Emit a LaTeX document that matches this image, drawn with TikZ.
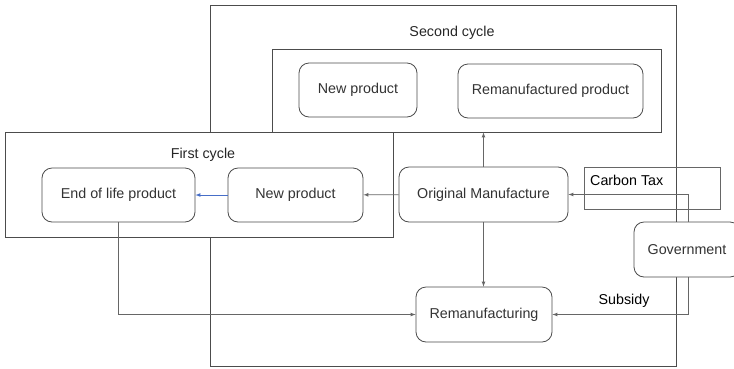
\documentclass[tikz,border=0pt]{standalone}
\usepackage{fontspec}
\setmainfont{Liberation Sans}
\definecolor{flowblue}{RGB}{70,110,200}
\begin{document}
\begin{tikzpicture}[x=1pt,y=-1pt,
	frame/.style={draw=black!70,line width=0.8pt},
	box/.style={draw=black!70,line width=0.8pt,rounded corners=10pt,fill=white,
		text=black!80,font=\fontsize{14.3}{17}\selectfont,inner sep=0pt},
	caption/.style={font=\fontsize{14.3}{17}\selectfont,inner sep=0pt},
	link/.style={draw=black!60,line width=0.7pt,-latex}]
	\useasboundingbox (0,0) rectangle (734,368);

	% second cycle
	\node[frame,minimum width=466,minimum height=361] (second) at (443,185.5) {};
	\node[caption,text=black!85] (secondtitle) at (452,33) {Second cycle};
	\node[frame,minimum width=389,minimum height=83] (products) at (466.5,90.5) {};
	\node[box,minimum width=118,minimum height=54] (newtwo) at (358,90) {New product};
	\node[box,minimum width=185,minimum height=54] (remprod) at (550.5,91) {Remanufactured product};

	% first cycle
	\node[frame,fill=white,minimum width=388,minimum height=105] (first) at (199,184.5) {};
	\node[caption,text=black!85] (firsttitle) at (203,155) {First cycle};
	\node[box,minimum width=153,minimum height=54] (eol) at (118.5,195) {End of life product};
	\node[box,minimum width=135,minimum height=54] (newone) at (295.5,195) {New product};

	\node[box,minimum width=169,minimum height=55] (orig) at (483.5,194.5) {Original Manufacture};
	\node[box,minimum width=136,minimum height=55] (reman) at (484,314.5) {Remanufacturing};

	% policy
	\node[frame,draw=black!60,minimum width=136,minimum height=42] (taxbox) at (652,188) {};
	\node[caption,anchor=west] (tax) at (590,180) {Carbon Tax};
	\node[box,minimum width=106,minimum height=55] (gov) at (687,249.5) {Government};
	\node[caption] (subsidy) at (624,301) {Subsidy};

	\draw[link] (orig) -- (newone);
	\draw[link,draw=flowblue] (newone) -- (eol);
	\draw[link] (orig.north) -- (orig.north |- products.south);
	\draw[link] (orig.south) -- (orig.south |- reman.north);
	\draw[link] (eol.south) |- (reman);
	\draw[link] ([xshift=1pt]gov.north) |- (orig);
	\draw[link] ([xshift=1pt]gov.south) |- (reman);
\end{tikzpicture}
\end{document}
